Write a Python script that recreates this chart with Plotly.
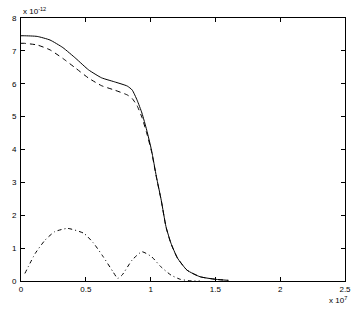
import plotly.graph_objects as go

# x in units of 1e7, y in units of 1e-12
x_solid = [0.0, 0.025, 0.125, 0.224, 0.323, 0.423, 0.522, 0.622, 0.72, 0.82, 0.858, 0.896,
           0.933, 0.97, 1.007, 1.045, 1.082, 1.119, 1.157, 1.207, 1.281, 1.381, 1.505, 1.6]
y_solid = [7.46, 7.46, 7.44, 7.33, 7.10, 6.77, 6.42, 6.18, 6.06, 5.93, 5.81, 5.50,
           5.11, 4.59, 3.98, 3.17, 2.46, 1.65, 1.15, 0.70, 0.33, 0.13, 0.05, 0.02]

x_dashed = [0.0, 0.025, 0.125, 0.224, 0.323, 0.423, 0.522, 0.622, 0.72, 0.82, 0.858, 0.896,
            0.933, 0.97, 1.007, 1.045, 1.082, 1.119, 1.157, 1.207, 1.281, 1.381, 1.505, 1.6]
y_dashed = [7.23, 7.23, 7.18, 7.03, 6.77, 6.47, 6.17, 5.94, 5.81, 5.66, 5.55, 5.33,
            4.98, 4.50, 3.94, 3.15, 2.45, 1.64, 1.14, 0.70, 0.33, 0.13, 0.05, 0.02]

x_dashdot = [0.03, 0.11, 0.187, 0.26, 0.36, 0.485, 0.56, 0.634, 0.71, 0.746, 0.78, 0.858,
             0.933, 1.007, 1.08, 1.157, 1.23, 1.30, 1.38]
y_dashdot = [0.23, 0.84, 1.25, 1.50, 1.60, 1.45, 1.15, 0.74, 0.28, 0.08, 0.18, 0.64,
             0.89, 0.74, 0.43, 0.18, 0.05, 0.01, 0.0]

x_ticks = [0, 0.5, 1, 1.5, 2, 2.5]
x_tick_labels = ["0", "0.5", "1", "1.5", "2", "2.5"]
y_ticks = [0, 1, 2, 3, 4, 5, 6, 7, 8]

fig = go.Figure()
fig.add_trace(go.Scatter(x=x_solid, y=y_solid, mode="lines", line=dict(color="black", width=1, shape="spline", smoothing=0.5)))
fig.add_trace(go.Scatter(x=x_dashed, y=y_dashed, mode="lines", line=dict(color="black", width=1, dash="5px,4px", shape="spline", smoothing=0.5)))
fig.add_trace(go.Scatter(x=x_dashdot, y=y_dashdot, mode="lines", line=dict(color="black", width=1, dash="4px,3px,1px,3px", shape="spline", smoothing=0.5)))

font = dict(family="Liberation Sans, Arial, sans-serif", size=8, color="black")
fig.update_layout(
    width=363, height=310,
    margin=dict(l=15, r=13, t=18, b=29),
    paper_bgcolor="white", plot_bgcolor="white",
    showlegend=False,
    font=font,
    xaxis=dict(range=[0, 2.5], tickvals=x_ticks, ticktext=x_tick_labels, ticks="inside", ticklen=4,
               tickcolor="black", showline=True, linecolor="black", linewidth=1, mirror="ticks",
               showgrid=False, zeroline=False, tickfont=font),
    yaxis=dict(range=[0, 8], tickvals=y_ticks, ticks="inside", ticklen=4, tickcolor="black",
               showline=True, linecolor="black", linewidth=1, mirror="ticks",
               showgrid=False, zeroline=False, tickfont=font, ticklabelstandoff=2),
    annotations=[
        dict(text="x 10<sup>-12</sup>", x=0, y=1, xref="paper", yref="paper", xanchor="left",
             yanchor="bottom", showarrow=False, font=font),
        dict(text="x 10<sup>7</sup>", x=1, y=0, xref="paper", yref="paper", xanchor="right",
             yanchor="top", showarrow=False, font=font, yshift=-12, xshift=4),
    ],
)

fig.write_html("out.html")
